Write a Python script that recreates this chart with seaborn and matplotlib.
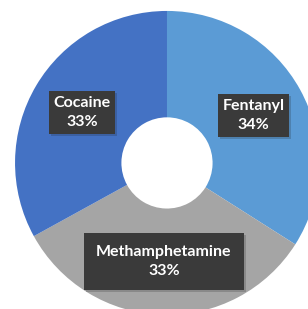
import numpy as np
import seaborn as sns
from matplotlib import pyplot as plt
from matplotlib import patheffects as pe

# data
drugs = ['Fentanyl', 'Methamphetamine', 'Cocaine']
shares = [34, 33, 33]
colors = ['#5b9bd5', '#a5a5a5', '#4472c4']

sns.set_theme(style='white')
plt.rcParams['font.family'] = ['Lato', 'DejaVu Sans']

fig = plt.figure(figsize=(3.08, 3.09), dpi=100)
ax = fig.add_axes([0, 0, 1, 1])

labels = [f'{d}\n{s}%' for d, s in zip(drugs, shares)]
wedges, texts = ax.pie(shares, colors=colors, startangle=90, counterclock=False,
                       labels=labels, labeldistance=0.65,
                       wedgeprops=dict(width=0.70, edgecolor='none'),
                       textprops=dict(color='white', fontsize=11.5, fontweight='bold',
                                      ha='center', va='center', multialignment='center'))

pads = [0.3, 0.75, 0.3]
for t, p in zip(texts, pads):
    t.set_horizontalalignment('center')
    t.set_linespacing(1.5)
    t.set_bbox(dict(boxstyle=f'square,pad={p}', facecolor='#3a3a3a', edgecolor='none'))
    t.get_bbox_patch().set_path_effects(
        [pe.withSimplePatchShadow(offset=(1.5, -1.5), shadow_rgbFace='k', alpha=0.2)])

# frame the view so the donut is cropped like the reference
ax.set_xlim(-1.099, 0.928)
ax.set_ylim(-0.961, 1.072)
ax.set_aspect('auto')
ax.axis('off')

plt.savefig('out.png', dpi=100)
